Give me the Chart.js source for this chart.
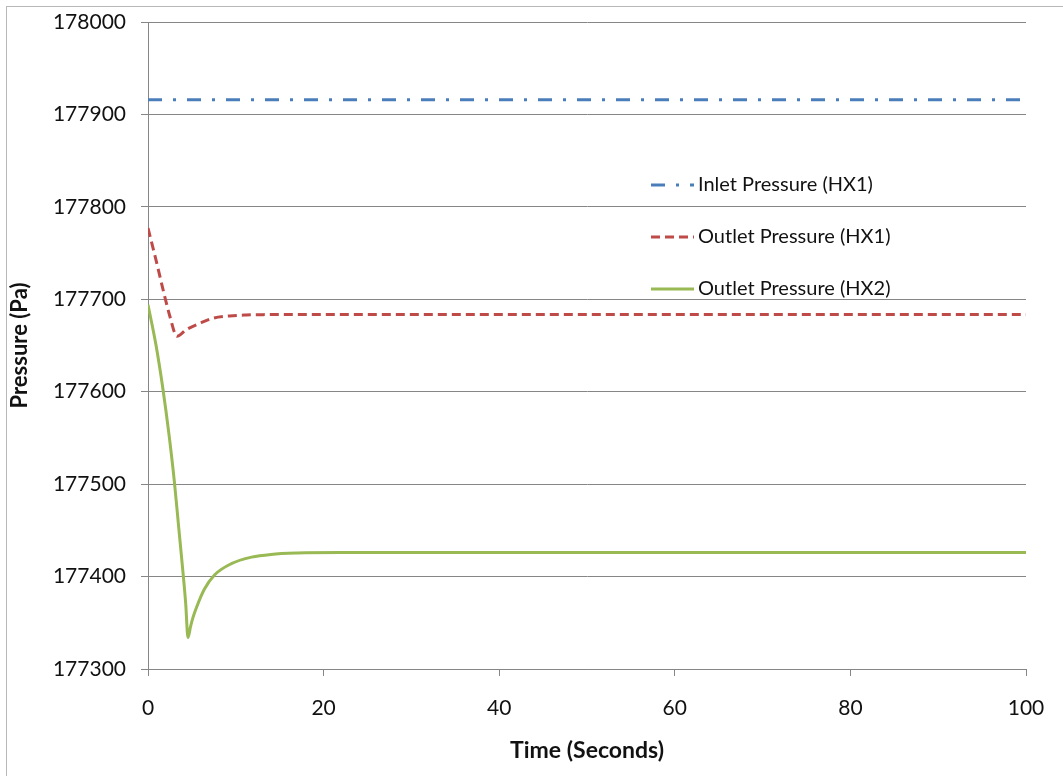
<!DOCTYPE html>
<html>
<head>
<meta charset="utf-8">
<title>Pressure vs Time</title>
<script src="https://cdn.jsdelivr.net/npm/chart.js@4.4.1/dist/chart.umd.min.js"></script>
<style>
  html, body { margin: 0; padding: 0; background: #fff; }
  canvas { display: block; }
</style>
</head>
<body>
<canvas id="chart" width="1063" height="776"></canvas>
<script>
// Inlet pressure stays flat over the run
const inletTime = [0, 100];
const inletPressure = [177916, 177916];

// HX1 outlet: quick drop then settles
const hx1Time = [0, 0.9, 1.7, 2.45, 3.3, 4.35, 5.9, 7.4, 9.3, 11.2, 13.1, 20, 100];
const hx1Pressure = [177777, 177743, 177711, 177683, 177660, 177667, 177674, 177679.5, 177682, 177683, 177683.4, 177683.5, 177683.5];

// HX2 outlet: deep undershoot before recovering
const hx2Time = [0, 0.9, 1.7, 2.4, 3.0, 3.5, 4.0, 4.3, 4.55, 4.85, 5.1, 5.5, 6.4, 7.6, 9.5, 11.8, 14, 17, 22, 100];
const hx2Pressure = [177694, 177651, 177603, 177553, 177503, 177453, 177403, 177370, 177334, 177346, 177355, 177366, 177386, 177402, 177414, 177421, 177424, 177425.5, 177426, 177426];

const seriesLabels = ['Inlet Pressure (HX1)', 'Outlet Pressure (HX1)', 'Outlet Pressure (HX2)'];
const xTicks = [0, 20, 40, 60, 80, 100];
const yTicks = [177300, 177400, 177500, 177600, 177700, 177800, 177900, 178000];

const FONT = 'Lato, "Liberation Sans", sans-serif';
const GRID = '#868686';

function toPoints(xs, ys) {
  return xs.map((x, i) => ({ x: x, y: ys[i] }));
}

// outer frame of the chart object
const framePlugin = {
  id: 'frame',
  beforeDraw(chart) {
    const ctx = chart.ctx;
    ctx.save();
    ctx.fillStyle = '#fff';
    ctx.fillRect(0, 0, chart.width, chart.height);
    ctx.strokeStyle = '#b8b8b8';
    ctx.lineWidth = 1;
    ctx.strokeRect(6.5, 6.5, chart.width + 10, chart.height + 10);
    ctx.restore();
  }
};

// legend sits inside the plot, stacked on the right
const insideLegend = {
  id: 'insideLegend',
  afterDraw(chart) {
    const ctx = chart.ctx;
    const x0 = 651, x1 = 694, tx = 698;
    const rows = [185, 237, 289];
    ctx.save();
    chart.data.datasets.forEach((ds, i) => {
      const y = rows[i];
      ctx.strokeStyle = ds.borderColor;
      ctx.lineWidth = ds.borderWidth;
      ctx.lineCap = 'butt';
      ctx.setLineDash(ds.borderDash || []);
      ctx.beginPath();
      ctx.moveTo(x0, y);
      ctx.lineTo(x1, y);
      ctx.stroke();
      ctx.setLineDash([]);
      ctx.fillStyle = '#111';
      ctx.font = '20px ' + FONT;
      ctx.textBaseline = 'middle';
      ctx.textAlign = 'left';
      ctx.fillText(ds.label, tx, y);
    });
    ctx.restore();
  }
};

new Chart(document.getElementById('chart'), {
  type: 'line',
  data: {
    datasets: [
      {
        label: seriesLabels[0],
        data: toPoints(inletTime, inletPressure),
        borderColor: '#4a7ebb',
        borderWidth: 3,
        borderDash: [14, 11, 3, 11],
        pointRadius: 0,
        tension: 0
      },
      {
        label: seriesLabels[1],
        data: toPoints(hx1Time, hx1Pressure),
        borderColor: '#be4b48',
        borderWidth: 3,
        borderDash: [9, 5],
        pointRadius: 0,
        cubicInterpolationMode: 'monotone'
      },
      {
        label: seriesLabels[2],
        data: toPoints(hx2Time, hx2Pressure),
        borderColor: '#98b954',
        borderWidth: 3,
        pointRadius: 0,
        cubicInterpolationMode: 'monotone'
      }
    ]
  },
  options: {
    responsive: false,
    animation: false,
    devicePixelRatio: 1,
    layout: { padding: { left: 0, right: 37, top: 22, bottom: 0 } },
    plugins: {
      legend: { display: false },
      tooltip: { enabled: false }
    },
    scales: {
      x: {
        type: 'linear',
        min: 0,
        max: 100,
        afterBuildTicks: s => { s.ticks = xTicks.map(v => ({ value: v })); },
        afterFit: s => { s.height = 107; s.paddingLeft = 0; s.paddingRight = 0; },
        ticks: {
          font: { family: FONT, size: 21 },
          color: '#111',
          padding: 20,
          maxRotation: 0,
          callback: v => String(v)
        },
        grid: {
          drawOnChartArea: false,
          drawTicks: true,
          tickLength: 7,
          color: GRID
        },
        border: { color: GRID },
        title: {
          display: true,
          text: 'Time (Seconds)',
          color: '#111',
          font: { family: FONT, size: 23, weight: 'bold' },
          padding: { top: 0, bottom: 12 }
        }
      },
      y: {
        type: 'linear',
        min: 177300,
        max: 178000,
        afterBuildTicks: s => { s.ticks = yTicks.map(v => ({ value: v })); },
        afterFit: s => { s.width = 148; s.paddingTop = 0; s.paddingBottom = 0; },
        ticks: {
          font: { family: FONT, size: 21 },
          color: '#111',
          padding: 15,
          callback: v => String(v)
        },
        grid: {
          drawTicks: true,
          tickLength: 7,
          color: GRID
        },
        border: { color: GRID },
        title: {
          display: true,
          text: 'Pressure (Pa)',
          color: '#111',
          font: { family: FONT, size: 22, weight: 'bold' },
          padding: { top: 7, bottom: 0 }
        }
      }
    }
  },
  plugins: [framePlugin, insideLegend]
});
</script>
</body>
</html>
